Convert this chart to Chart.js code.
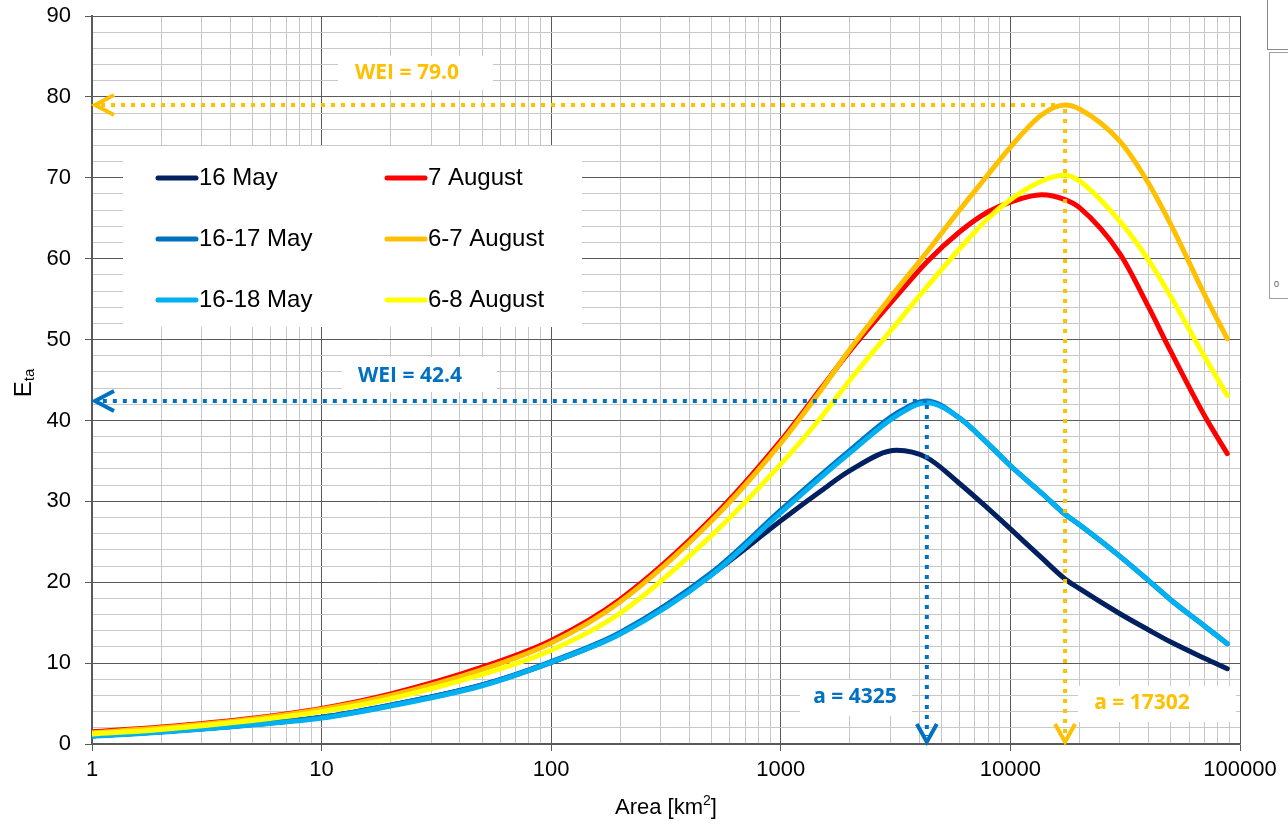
<!DOCTYPE html>
<html>
<head>
<meta charset="utf-8">
<script src="https://cdn.jsdelivr.net/npm/chart.js@4.4.0/dist/chart.umd.min.js"></script>
<style>
  html, body { margin: 0; padding: 0; background: #fff; }
  #wrap { position: relative; width: 1288px; height: 828px; overflow: hidden; }
  #side1 { position: absolute; left: 1267px; top: -2px; width: 40px; height: 51px; border-left: 1px solid #8a8a8a; border-bottom: 1px solid #8a8a8a; }
  #side2 { position: absolute; left: 1269px; top: 52px; width: 40px; height: 245px; border-left: 1px solid #a0a0a0; border-top: 1px solid #a0a0a0; border-bottom: 1px solid #a0a0a0; }
  #side2 span { position: absolute; left: 4px; top: 226px; font: 9px "Liberation Sans", Arial, sans-serif; color: #555; }
</style>
</head>
<body>
<div id="wrap">
  <canvas id="chartContainer" width="1288" height="828"></canvas>
  <div id="side1"></div>
  <div id="side2"><span>0</span></div>
</div>
<script>
// area values [km2] the curves were read at
const areas = [1, 2, 5, 10, 20, 50, 100, 200, 500, 1000, 1500, 2000, 3200, 4325, 6000, 8000, 10000, 13700, 17302, 20000, 30000, 40000, 50000, 70000, 88000];

// Eta values for each period
const may16    = [1.0, 1.5, 2.4, 3.3, 4.8, 7.3, 10.1, 13.7, 21.0, 27.6, 31.3, 33.8, 36.3, 35.4, 32.2, 29.1, 26.6, 23.0, 20.4, 19.2, 16.1, 14.1, 12.6, 10.6, 9.3];
const may16_17 = [1.0, 1.5, 2.4, 3.3, 4.8, 7.3, 10.2, 13.8, 21.2, 28.9, 33.3, 36.3, 40.9, 42.4, 40.3, 37.1, 34.4, 31.0, 28.4, 27.1, 23.2, 20.2, 17.8, 14.6, 12.4];
const may16_18 = [0.95, 1.45, 2.35, 3.2, 4.7, 7.2, 10.1, 13.6, 20.9, 28.6, 33.0, 36.0, 40.6, 42.2, 40.3, 37.1, 34.4, 31.0, 28.4, 27.1, 23.2, 20.2, 17.8, 14.6, 12.4];
const aug7     = [1.5, 2.1, 3.2, 4.4, 6.2, 9.5, 12.8, 17.9, 27.9, 37.5, 44.0, 48.6, 55.4, 59.6, 63.3, 65.8, 67.0, 67.9, 67.3, 66.3, 60.6, 54.0, 48.5, 40.6, 35.9];
const aug6_7   = [1.4, 2.0, 3.1, 4.3, 6.0, 9.2, 12.5, 17.6, 27.6, 37.2, 43.8, 48.8, 56.2, 60.8, 66.0, 70.4, 73.8, 77.8, 79.0, 78.5, 74.5, 69.3, 64.2, 55.6, 50.1];
const aug6_8   = [1.25, 1.8, 2.9, 4.0, 5.6, 8.6, 11.6, 16.2, 25.8, 34.6, 40.4, 45.0, 52.0, 56.5, 61.2, 65.0, 67.3, 69.6, 70.3, 69.6, 64.6, 59.8, 55.3, 47.9, 43.1];

const seriesNames  = ['16 May', '16-17 May', '16-18 May', '7 August', '6-7 August', '6-8 August'];
const seriesValues = [may16, may16_17, may16_18, aug7, aug6_7, aug6_8];
const seriesColors = ['#002060', '#0070C0', '#00B0F0', '#FF0000', '#FFC000', '#FFFF00'];

// tick labels
const xTickLabels = [1, 10, 100, 1000, 10000, 100000];
const yTickLabels = [0, 10, 20, 30, 40, 50, 60, 70, 80, 90];

// max water erosion index and the area where it occurs
const weiValues = [79.0, 42.4];
const weiAreas = [17302, 4325];
const weiColors = ['#FFC000', '#0070C0'];

const FONT = '"Liberation Sans", Arial, sans-serif';
const LABEL_FONT = '"Open Sans", "Noto Sans", sans-serif';

// minor grid lines at 1..9 of every decade
let gridAreas = [];
for (let i = 0; i < xTickLabels.length - 1; i++) {
  for (let k = 1; k < 10; k++) gridAreas.push(k * xTickLabels[i]);
}
gridAreas.push(xTickLabels[xTickLabels.length - 1]);

let datasets = seriesNames.map((name, i) => ({
  label: name,
  data: areas.map((a, j) => ({ x: a, y: seriesValues[i][j] })),
  borderColor: seriesColors[i],
  backgroundColor: seriesColors[i],
  borderWidth: 5,
  pointRadius: 0,
  fill: false,
  cubicInterpolationMode: 'monotone',
  borderCapStyle: 'round',
  order: seriesNames.length - i
}));

function dottedLine(ctx, x1, y1, x2, y2, color) {
  ctx.save();
  ctx.strokeStyle = color;
  ctx.lineWidth = 4;
  ctx.setLineDash([4, 6]);
  ctx.beginPath();
  ctx.moveTo(x1, y1);
  ctx.lineTo(x2, y2);
  ctx.stroke();
  ctx.restore();
}

function chevron(ctx, pts, color) {
  ctx.save();
  ctx.strokeStyle = color;
  ctx.lineWidth = 4;
  ctx.beginPath();
  ctx.moveTo(pts[0][0], pts[0][1]);
  ctx.lineTo(pts[1][0], pts[1][1]);
  ctx.lineTo(pts[2][0], pts[2][1]);
  ctx.stroke();
  ctx.restore();
}

function boxedText(ctx, text, cx, cy, box, color) {
  ctx.save();
  ctx.fillStyle = '#fff';
  ctx.fillRect(box[0], box[1], box[2] - box[0], box[3] - box[1]);
  ctx.fillStyle = color;
  ctx.font = 'bold 21px ' + LABEL_FONT;
  ctx.textAlign = 'center';
  ctx.textBaseline = 'middle';
  ctx.fillText(text, cx, cy);
  ctx.restore();
}

const annotationPlugin = {
  id: 'annotations',
  afterDatasetsDraw(chart) {
    const ctx = chart.ctx;
    const xs = chart.scales.x, ys = chart.scales.y;
    const area = chart.chartArea;

    // legend, two columns
    ctx.save();
    ctx.fillStyle = '#fff';
    ctx.fillRect(123, 146, 459, 181);
    ctx.font = '24px ' + FONT;
    ctx.textBaseline = 'middle';
    chart.data.datasets.forEach((ds, i) => {
      const col = Math.floor(i / 3), row = i % 3;
      const lx = col === 0 ? 158 : 387;
      const ly = 178 + row * 61;
      ctx.strokeStyle = ds.borderColor;
      ctx.lineWidth = 5;
      ctx.lineCap = 'round';
      ctx.beginPath();
      ctx.moveTo(lx, ly);
      ctx.lineTo(lx + 38, ly);
      ctx.stroke();
      ctx.fillStyle = '#000';
      ctx.fillText(ds.label, lx + 41, ly);
    });
    ctx.restore();

    // WEI arrows
    weiValues.forEach((wei, i) => {
      const px = xs.getPixelForValue(weiAreas[i]);
      const py = ys.getPixelForValue(wei);
      const c = weiColors[i];
      dottedLine(ctx, px, py, area.left + 8, py, c);
      chevron(ctx, [[area.left + 22, py - 10], [area.left + 3, py], [area.left + 22, py + 10]], c);
      dottedLine(ctx, px, py + 4, px, area.bottom - 8, c);
      chevron(ctx, [[px - 10, area.bottom - 20], [px, area.bottom - 2], [px + 10, area.bottom - 20]], c);
    });

    boxedText(ctx, 'WEI = ' + weiValues[0].toFixed(1), 407, 73, [338, 56, 493, 90], weiColors[0]);
    boxedText(ctx, 'WEI = ' + weiValues[1].toFixed(1), 410, 376, [342, 357, 497, 392], weiColors[1]);
    boxedText(ctx, 'a = ' + weiAreas[1], 855, 697, [800, 680, 912, 716], weiColors[1]);
    boxedText(ctx, 'a = ' + weiAreas[0], 1142, 703, [1078, 686, 1236, 722], weiColors[0]);

    // axis titles
    ctx.save();
    ctx.fillStyle = '#000';
    ctx.textBaseline = 'middle';
    ctx.textAlign = 'left';
    const t1 = 'Area [km', t2 = ']';
    ctx.font = '22px ' + FONT;
    const w1 = ctx.measureText(t1).width, w2 = ctx.measureText(t2).width;
    ctx.font = '14px ' + FONT;
    const ws = ctx.measureText('2').width;
    const cx = (area.left + area.right) / 2;
    const sx = cx - (w1 + ws + w2) / 2;
    ctx.font = '22px ' + FONT;
    ctx.fillText(t1, sx, 808);
    ctx.fillText(t2, sx + w1 + ws, 808);
    ctx.font = '14px ' + FONT;
    ctx.fillText('2', sx + w1, 801);

    ctx.translate(24, 383);
    ctx.rotate(-Math.PI / 2);
    ctx.font = '24px ' + FONT;
    const we = ctx.measureText('E').width;
    ctx.font = '15px ' + FONT;
    const wt = ctx.measureText('ta').width;
    const ex = -(we + wt) / 2;
    ctx.font = '24px ' + FONT;
    ctx.fillText('E', ex, 0);
    ctx.font = '15px ' + FONT;
    ctx.fillText('ta', ex + we, 6);
    ctx.restore();
  }
};

let chartContainer = document.getElementById('chartContainer').getContext('2d');
let chart = new Chart(chartContainer, {
  type: 'line',
  data: { datasets: datasets },
  plugins: [annotationPlugin],
  options: {
    responsive: false,
    animation: false,
    layout: { padding: { left: 0, top: 16, right: 48, bottom: 0 } },
    plugins: { legend: { display: false }, tooltip: { enabled: false } },
    scales: {
      x: {
        type: 'logarithmic',
        min: 1,
        max: 100000,
        afterBuildTicks: (scale) => { scale.ticks = gridAreas.map(v => ({ value: v })); },
        afterFit: (scale) => { scale.height = 84; scale.paddingLeft = 0; scale.paddingRight = 0; },
        ticks: {
          autoSkip: false,
          maxRotation: 0,
          padding: 6,
          color: '#000',
          font: { family: FONT, size: 22 },
          callback: (v) => xTickLabels.includes(v) ? String(v) : ''
        },
        grid: {
          color: (c) => xTickLabels.includes(c.tick.value) ? '#5a5a5a' : '#c8c8c8',
          tickColor: (c) => xTickLabels.includes(c.tick.value) ? '#5a5a5a' : 'rgba(0,0,0,0)',
          tickLength: 7,
          lineWidth: 1
        },
        border: { color: '#5a5a5a', width: 1.5 }
      },
      y: {
        min: 0,
        max: 90,
        afterFit: (scale) => { scale.width = 92; scale.paddingTop = 0; scale.paddingBottom = 0; },
        ticks: {
          stepSize: 2,
          autoSkip: false,
          padding: 14,
          color: '#000',
          font: { family: FONT, size: 22 },
          callback: (v) => yTickLabels.includes(v) ? String(v) : ''
        },
        grid: {
          color: (c) => yTickLabels.includes(c.tick.value) ? '#5a5a5a' : '#c8c8c8',
          tickColor: (c) => yTickLabels.includes(c.tick.value) ? '#5a5a5a' : 'rgba(0,0,0,0)',
          tickLength: 7,
          lineWidth: 1
        },
        border: { color: '#5a5a5a', width: 2 }
      }
    }
  }
});
</script>
</body>
</html>
